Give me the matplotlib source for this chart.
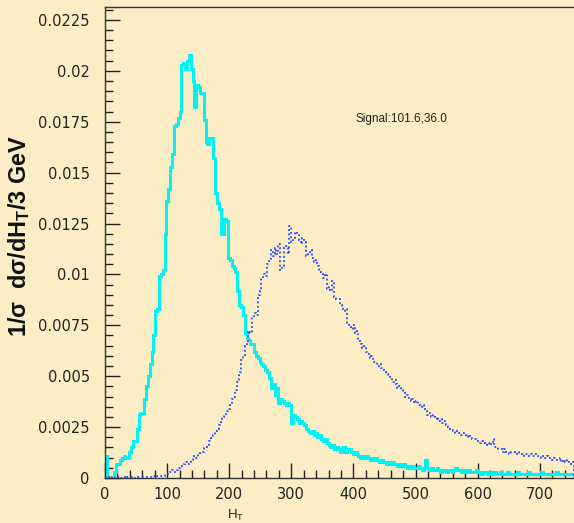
import numpy as np
import matplotlib
matplotlib.use("Agg")
import matplotlib.pyplot as plt
from matplotlib.ticker import MultipleLocator, FixedLocator

plt.rcParams['mathtext.fontset'] = 'custom'
plt.rcParams['mathtext.rm'] = 'Liberation Sans'
plt.rcParams['mathtext.it'] = 'Liberation Sans:italic'
plt.rcParams['mathtext.bf'] = 'Liberation Sans:bold'

bin_width = 3.0
n_bins = 252

cyan_values = [
    0.0011, 0, 0, 0, 0, 0.0003, 0.0007, 0.0007, 0.0009, 0.0010,
    0.0011, 0.0010, 0.0010, 0.0013, 0.0015, 0.0018, 0.0018, 0.0024, 0.0031, 0.0032,
    0.0032, 0.0039, 0.0045, 0.0050, 0.0056, 0.0062, 0.0070, 0.0082, 0.0083, 0.0099,
    0.0100, 0.0102, 0.0120, 0.0136, 0.0142, 0.0153, 0.0159, 0.0173, 0.0174, 0.0177,
    0.0180, 0.0203, 0.0204, 0.0201, 0.0205, 0.0208, 0.0201, 0.0195, 0.0182, 0.0193,
    0.0192, 0.0189, 0.0189, 0.0176, 0.0165, 0.0164, 0.0167, 0.0167, 0.0157, 0.0140,
    0.0135, 0.0132, 0.0120, 0.0120, 0.0127, 0.0126, 0.0108, 0.0107, 0.0104, 0.0103,
    0.0101, 0.0092, 0.0085, 0.0084, 0.0080, 0.0071, 0.0069, 0.0068, 0.0066, 0.0066,
    0.0062, 0.0060, 0.0059, 0.0057, 0.0056, 0.0055, 0.0053, 0.0052, 0.0049, 0.0044,
    0.0046, 0.0041, 0.0044, 0.0037, 0.0039, 0.0038, 0.0037, 0.0036, 0.0037, 0.0036,
    0.0027, 0.0031, 0.0030, 0.0029, 0.0027, 0.0028, 0.0027, 0.0026, 0.0024, 0.0023,
    0.0022, 0.0023, 0.0021, 0.0022, 0.0020, 0.0021, 0.0019, 0.0018, 0.0019, 0.0017,
    0.0016, 0.0015, 0.0016, 0.0014, 0.0015, 0.0014, 0.0013, 0.0014, 0.0015, 0.0013,
    0.0014, 0.0014, 0.0013, 0.0012, 0.0013, 0.0012, 0.0011, 0.0010, 0.0011, 0.0010,
    0.0011, 0.0010, 0.0009, 0.0010, 0.0009, 0.0010, 0.0009, 0.0008, 0.0009, 0.0008,
    0.0008, 0.0007, 0.0008, 0.0007, 0.0008, 0.0007, 0.0007, 0.0006, 0.0007, 0.0006,
    0.0007, 0.0006, 0.0005, 0.0006, 0.0005, 0.0006, 0.0005, 0.0005, 0.0006, 0.0005,
    0.0004, 0.0005, 0.0009, 0.0005, 0.0004, 0.0005, 0.0004, 0.0004, 0.0005, 0.0004,
    0.0003, 0.0004, 0.0004, 0.0003, 0.0004, 0.0004, 0.0003, 0.0004, 0.0005, 0.0004,
    0.0004, 0.0003, 0.0004, 0.0003, 0.0003, 0.0004, 0.0003, 0.0003, 0.0003, 0.0004,
    0.0003, 0.0003, 0.0002, 0.0003, 0.0003, 0.0002, 0.0003, 0.0002, 0.0002, 0.0003,
    0.0002, 0.0002, 0.0003, 0.0002, 0.0002, 0.0002, 0.0003, 0.0002, 0.0002, 0.0002,
    0.0002, 0.0003, 0.0002, 0.0002, 0.0002, 0.0002, 0.0002, 0.0003, 0.0002, 0.0002,
    0.0002, 0.0002, 0.0002, 0.0002, 0.0003, 0.0002, 0.0002, 0.0002, 0.0002, 0.0002,
    0.0002, 0.0002, 0.0003, 0.0002, 0.0002, 0.0002, 0.0002, 0.0002, 0.0002, 0.0002,
    0.0002, 0.0002,
]

blue_values = [
    0, 0, 0.00003, 0, 0.00003, 0, 0.00003, 0.00003, 0, 0.00003,
    0.00003, 0, 0.00003, 0.00003, 0.00003, 0, 0.00003, 0.00003, 0.00003, 0.00003,
    0.00003, 0.00005, 0.00003, 0.00005, 0.00005, 0.00005, 0.00008, 0.00005, 0.00008, 0.0001,
    0.0001, 0.0001, 0.0002, 0.0002, 0.0003, 0.0003, 0.0004, 0.0003, 0.0004, 0.0005,
    0.0006, 0.0006, 0.0007, 0.0008, 0.0007, 0.0008, 0.0009, 0.0010, 0.0011, 0.0010,
    0.0012, 0.0013, 0.0013, 0.0015, 0.0015, 0.0016, 0.0018, 0.0020, 0.0021, 0.0023,
    0.0024, 0.0026, 0.0028, 0.0030, 0.0031, 0.0033, 0.0034, 0.0036, 0.0039, 0.0040,
    0.0043, 0.0047, 0.0052, 0.0058, 0.0060, 0.0065, 0.0067, 0.0072, 0.0071, 0.0079,
    0.0081, 0.0080, 0.0090, 0.0092, 0.0098, 0.0100, 0.0099, 0.0105, 0.0107, 0.0112,
    0.0109, 0.0113, 0.0110, 0.0115, 0.0102, 0.0104, 0.0113, 0.0114, 0.0110, 0.0124,
    0.0116, 0.0118, 0.0121, 0.0120, 0.0117, 0.0115, 0.0118, 0.0116, 0.0109, 0.0110,
    0.0112, 0.0108, 0.0106, 0.0107, 0.0104, 0.0101, 0.0100, 0.0098, 0.0100, 0.0093,
    0.0094, 0.0092, 0.0097, 0.0089, 0.0088, 0.0088, 0.0085, 0.0084, 0.0082, 0.0083,
    0.0076, 0.0074, 0.0073, 0.0075, 0.0071, 0.0072, 0.0068, 0.0066, 0.0064, 0.0065,
    0.0062, 0.0061, 0.0059, 0.0060, 0.0057, 0.0057, 0.0055, 0.0056, 0.0054, 0.0053,
    0.0052, 0.0051, 0.0050, 0.0049, 0.0047, 0.0048, 0.0046, 0.0044, 0.0045, 0.0043,
    0.0042, 0.0040, 0.0041, 0.0039, 0.0038, 0.0039, 0.0037, 0.0038, 0.0036, 0.0035,
    0.0036, 0.0034, 0.0033, 0.0031, 0.0032, 0.0030, 0.0031, 0.0029, 0.0030, 0.0028,
    0.0029, 0.0027, 0.0028, 0.0026, 0.0025, 0.0024, 0.0024, 0.0023, 0.0022, 0.0023,
    0.0022, 0.0021, 0.0022, 0.0021, 0.0020, 0.0021, 0.0020, 0.0019, 0.0019, 0.0018,
    0.0018, 0.0017, 0.0018, 0.0017, 0.0016, 0.0017, 0.0016, 0.0017, 0.0019, 0.0015,
    0.0015, 0.0014, 0.0014, 0.0013, 0.0014, 0.0013, 0.0013, 0.0012, 0.0013, 0.0013,
    0.0012, 0.0013, 0.0012, 0.0012, 0.0011, 0.0012, 0.0012, 0.0011, 0.0012, 0.0011,
    0.0011, 0.0012, 0.0011, 0.0011, 0.0010, 0.0011, 0.0010, 0.0011, 0.0010, 0.0010,
    0.0009, 0.0010, 0.0009, 0.0009, 0.0010, 0.0008, 0.0009, 0.0008, 0.0009, 0.0008,
    0.0007, 0.0008,
]

y_tick_values = [0, 0.0025, 0.005, 0.0075, 0.01, 0.0125, 0.015, 0.0175, 0.02, 0.0225]
y_tick_labels = ['0', '0.0025', '0.005', '0.0075', '0.01', '0.0125', '0.015', '0.0175', '0.02', '0.0225']
x_tick_values = [0, 100, 200, 300, 400, 500, 600, 700]
x_tick_labels = ['0', '100', '200', '300', '400', '500', '600', '700']
annotation = 'Signal:101.6,36.0'

edges = np.arange(n_bins + 1) * bin_width

bg = '#fdedc5'
W, H = 574, 523
fig = plt.figure(figsize=(W / 100, H / 100), dpi=100, facecolor=bg)
ax = fig.add_axes([105 / W, 45 / H, (W - 105) / W, (478 - 7.3) / H], facecolor=bg)

ax.stairs(cyan_values, edges, color='#00f2f2', linewidth=2.2, zorder=2)
ax.stairs(blue_values, edges, color='#2848ff', linewidth=1.3,
          linestyle=(0, (1, 1.4)), zorder=3)

ax.set_xlim(0, (W - 105) / 0.621)
ax.set_ylim(0, 0.02312)

ax.xaxis.set_major_locator(FixedLocator(x_tick_values))
ax.set_xticklabels(x_tick_labels)
ax.xaxis.set_minor_locator(MultipleLocator(20))
ax.yaxis.set_major_locator(FixedLocator(y_tick_values))
ax.set_yticklabels(y_tick_labels)
ax.yaxis.set_minor_locator(MultipleLocator(0.0005))

ax.tick_params(which='both', direction='in', colors='#222222', width=1.0,
               top=False, right=False)
ax.tick_params(which='major', length=10.5)
ax.tick_params(which='minor', length=5.5)
ax.tick_params(axis='y', which='major', pad=11, labelsize=10.5)
ax.tick_params(axis='x', which='major', pad=6.5, labelsize=10.5)
for lab in ax.get_xticklabels() + ax.get_yticklabels():
    lab.set_fontfamily('DejaVu Sans')
    lab.set_color('#222222')

for s in ['left', 'bottom', 'top']:
    ax.spines[s].set_color('#333333')
    ax.spines[s].set_linewidth(1.0)
ax.spines['right'].set_visible(False)

ax.text(356 / 0.621 - 105 / 0.621, (478 - 122) / 20356, annotation,
        fontsize=8.5, family='Liberation Sans', color='#222222',
        ha='left', va='baseline')

fig.text(236 / W, 1 - 515 / H, r'H$_{\mathrm{T}}$', fontsize=9.5,
         family='Liberation Sans', color='#222222', ha='center', va='center')

fig.text(19.5 / W, 1 - 236.5 / H, '1/σ  dσ/dH$_{\\mathbf{T}}$/3 GeV', fontsize=16.8,
         family='Liberation Sans', fontweight='bold', color='#111111', rotation=90,
         ha='center', va='center')

fig.savefig('out.png', dpi=100, facecolor=bg)
